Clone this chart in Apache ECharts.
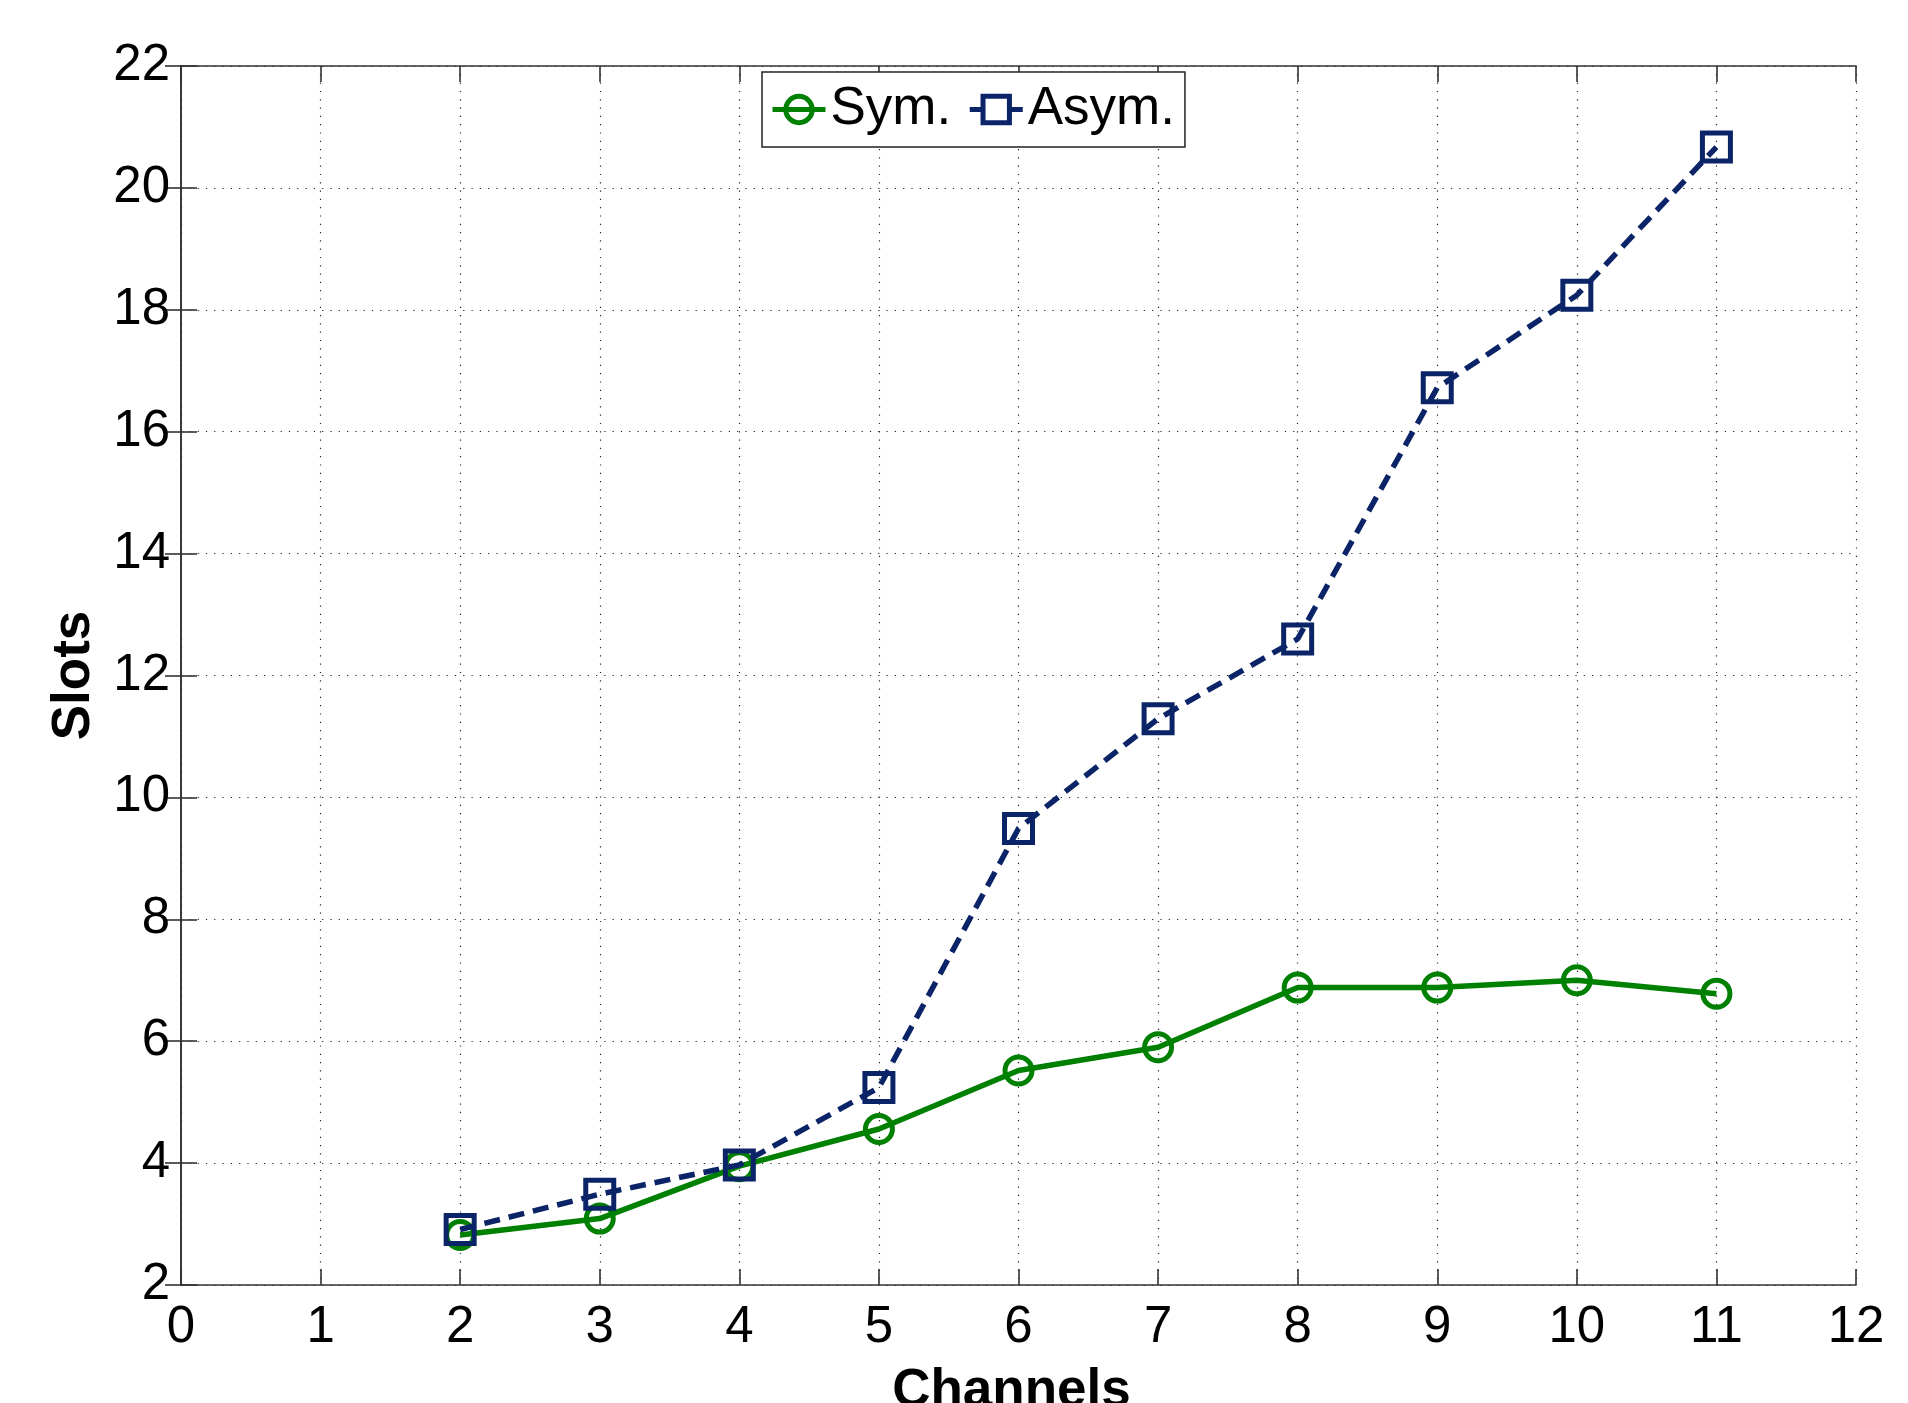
<!DOCTYPE html>
<html>
<head>
<meta charset="utf-8">
<script src="https://cdn.jsdelivr.net/npm/echarts@6/dist/echarts.min.js"></script>
<style>
html,body{margin:0;padding:0;background:#fff;}
#chart{width:1908px;height:1403px;}
</style>
</head>
<body>
<div id="chart"></div>
<script>
const channels = [2, 3, 4, 5, 6, 7, 8, 9, 10, 11];
const symValues = [2.82, 3.09, 3.95, 4.56, 5.52, 5.90, 6.88, 6.88, 7.00, 6.78];
const asymValues = [2.91, 3.49, 3.97, 5.24, 9.49, 11.29, 12.60, 16.72, 18.24, 20.67];
const seriesNames = ['Sym.', 'Asym.'];
const xAxisTitle = 'Channels';
const yAxisTitle = 'Slots';

const FONT = '"Liberation Sans", Arial, Helvetica, sans-serif';
const GREEN = '#008000';
const NAVY = '#0b2468';

const chart = echarts.init(document.getElementById('chart'));

const pairs = (xs, ys) => xs.map((x, i) => [x, ys[i]]);

const gridLine = { show: true, lineStyle: { color: '#222', width: 1.2, type: [1.2, 7.1] } };
const axisLineStyle = { show: true, lineStyle: { color: '#333', width: 1.6 } };
const tickStyle = { show: true, inside: true, length: 16, lineStyle: { color: '#333', width: 1.6 } };

chart.setOption({
  backgroundColor: '#ffffff',
  animation: false,
  grid: { left: 181, right: 52, top: 66, bottom: 118, containLabel: false, outerBoundsMode: 'none' },
  legend: {
    left: 762, top: 72,
    orient: 'horizontal',
    backgroundColor: '#fff',
    borderColor: '#222', borderWidth: 1.5,
    padding: [11, 10, 11, 8],
    itemGap: 16,
    itemWidth: 53, itemHeight: 33,
    itemStyle: { borderWidth: 5 },
    lineStyle: { width: 5 },
    textStyle: { fontFamily: FONT, fontSize: 53, color: '#000' },
    data: [
      { name: seriesNames[0] },
      { name: seriesNames[1], lineStyle: { type: [13, 27, 13, 0] } }
    ]
  },
  xAxis: [
    {
      type: 'value', min: 0, max: 12, interval: 1,
      name: xAxisTitle, nameLocation: 'middle', nameGap: 80,
      nameTextStyle: { fontFamily: FONT, fontSize: 53, fontWeight: 'bold', color: '#000', padding: [0, 14, 0, 0] },
      axisLine: axisLineStyle, axisTick: tickStyle,
      axisLabel: { fontFamily: FONT, fontSize: 51, color: '#000', margin: 17 },
      splitLine: gridLine
    },
    {
      type: 'value', position: 'top', min: 0, max: 12, interval: 1,
      axisLine: axisLineStyle, axisTick: tickStyle,
      axisLabel: { show: false }, splitLine: { show: false }
    }
  ],
  yAxis: [
    {
      type: 'value', min: 2, max: 22, interval: 2,
      name: yAxisTitle, nameLocation: 'middle', nameGap: 80,
      nameTextStyle: { fontFamily: FONT, fontSize: 53, fontWeight: 'bold', color: '#000' },
      axisLine: axisLineStyle, axisTick: tickStyle,
      axisLabel: { fontFamily: FONT, fontSize: 51, color: '#000', margin: 11 },
      splitLine: gridLine
    },
    {
      type: 'value', position: 'right', min: 2, max: 22, interval: 2,
      axisLine: axisLineStyle, axisTick: tickStyle,
      axisLabel: { show: false }, splitLine: { show: false }
    }
  ],
  series: [
    {
      name: seriesNames[0], type: 'line',
      data: pairs(channels, symValues),
      symbol: 'circle', symbolSize: 27,
      lineStyle: { color: GREEN, width: 5.5, type: 'solid' },
      itemStyle: { color: 'rgba(255,255,255,0)', borderColor: GREEN, borderWidth: 5 },
      z: 2
    },
    {
      name: seriesNames[1], type: 'line',
      data: pairs(channels, asymValues),
      symbol: 'rect', symbolSize: 28,
      lineStyle: { color: NAVY, width: 5.5, type: [16, 9] },
      itemStyle: { color: 'rgba(255,255,255,0)', borderColor: NAVY, borderWidth: 5 },
      z: 3
    }
  ]
});
</script>
</body>
</html>
